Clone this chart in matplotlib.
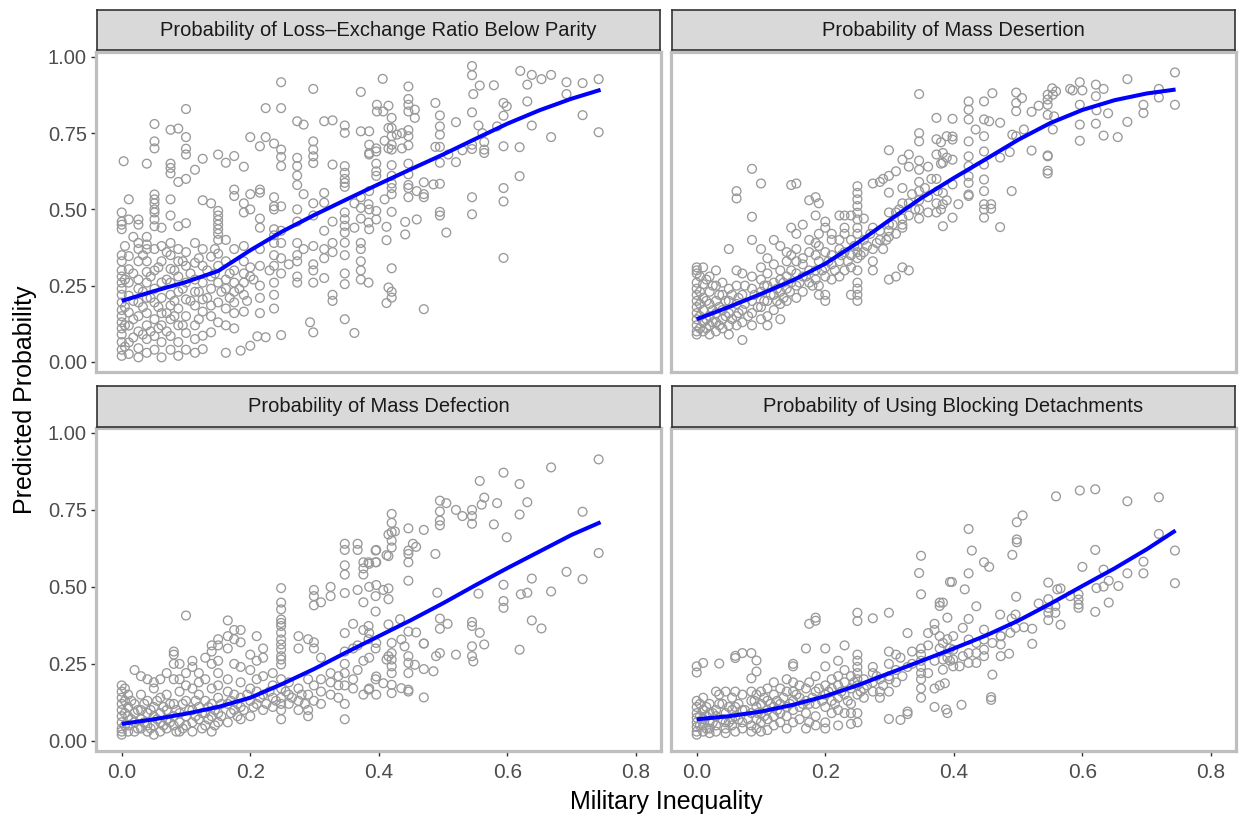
import matplotlib
matplotlib.use("Agg")
import matplotlib.pyplot as plt

plt.rcParams["font.family"] = ["Liberation Sans", "DejaVu Sans"]

# facet titles
titles = [
    "Probability of Loss\u2013Exchange Ratio Below Parity",
    "Probability of Mass Desertion",
    "Probability of Mass Defection",
    "Probability of Using Blocking Detachments",
]

# smoothed fit
fit_x = [0.0, 0.05, 0.1, 0.15, 0.2, 0.25, 0.3, 0.35, 0.4, 0.45, 0.5, 0.55, 0.6, 0.65, 0.7, 0.745]
loss_fit = [0.20, 0.232, 0.262, 0.298, 0.366, 0.428, 0.482, 0.533, 0.583, 0.632, 0.68, 0.731, 0.781, 0.825, 0.863, 0.892]
desert_fit = [0.14, 0.18, 0.223, 0.268, 0.322, 0.39, 0.465, 0.538, 0.603, 0.665, 0.728, 0.783, 0.826, 0.858, 0.880, 0.893]
defect_fit = [0.055, 0.07, 0.088, 0.11, 0.14, 0.185, 0.234, 0.288, 0.34, 0.392, 0.447, 0.505, 0.561, 0.615, 0.669, 0.71]
block_fit = [0.07, 0.08, 0.095, 0.117, 0.145, 0.18, 0.22, 0.26, 0.30, 0.342, 0.39, 0.445, 0.503, 0.56, 0.622, 0.683]

# predicted probabilities (x = military inequality, y = probability)
loss_pts = [
    (0.0, 0.49), (0.0, 0.46), (0.0, 0.45), (0.0, 0.435), (0.0, 0.35), (0.0, 0.33), (0.0, 0.30), (0.0, 0.28),
    (0.0, 0.26), (0.0, 0.24), (0.0, 0.22), (0.0, 0.195), (0.0, 0.17), (0.0, 0.15), (0.0, 0.13), (0.0, 0.11),
    (0.0, 0.09), (0.0, 0.065), (0.0, 0.04), (0.0, 0.02), (0.003, 0.658),
    (0.011, 0.533), (0.011, 0.467), (0.011, 0.347), (0.011, 0.304), (0.011, 0.26), (0.011, 0.217), (0.011, 0.162),
    (0.011, 0.119), (0.011, 0.064), (0.011, 0.026),
    (0.026, 0.467), (0.026, 0.45), (0.026, 0.39), (0.026, 0.37), (0.026, 0.33), (0.026, 0.27), (0.026, 0.24),
    (0.026, 0.195), (0.026, 0.15), (0.026, 0.10), (0.026, 0.045), (0.026, 0.015),
    (0.039, 0.65), (0.039, 0.41), (0.039, 0.385), (0.039, 0.37), (0.039, 0.33), (0.039, 0.295), (0.039, 0.26),
    (0.039, 0.21), (0.039, 0.16), (0.039, 0.12), (0.039, 0.075), (0.039, 0.03),
    (0.051, 0.78), (0.051, 0.723), (0.051, 0.70), (0.051, 0.549), (0.051, 0.533), (0.051, 0.52), (0.051, 0.50),
    (0.051, 0.49), (0.051, 0.467), (0.051, 0.445), (0.051, 0.37), (0.051, 0.30), (0.051, 0.24), (0.051, 0.195),
    (0.051, 0.14), (0.051, 0.085), (0.051, 0.04),
    (0.062, 0.44), (0.062, 0.38), (0.062, 0.33), (0.062, 0.26), (0.062, 0.21), (0.062, 0.16), (0.062, 0.12),
    (0.062, 0.065), (0.062, 0.015),
    (0.076, 0.761), (0.076, 0.65), (0.076, 0.636), (0.076, 0.618), (0.076, 0.533), (0.076, 0.48), (0.076, 0.39),
    (0.076, 0.35), (0.076, 0.305), (0.076, 0.26), (0.076, 0.22), (0.076, 0.185), (0.076, 0.14), (0.076, 0.085),
    (0.076, 0.04),
    (0.088, 0.765), (0.088, 0.59), (0.088, 0.445), (0.088, 0.37), (0.088, 0.33), (0.088, 0.28), (0.088, 0.23),
    (0.088, 0.175), (0.088, 0.12), (0.088, 0.065), (0.088, 0.02),
    (0.10, 0.829), (0.10, 0.737), (0.10, 0.699), (0.10, 0.68), (0.10, 0.60), (0.10, 0.455), (0.10, 0.36),
    (0.10, 0.315), (0.10, 0.26), (0.10, 0.205), (0.10, 0.15), (0.10, 0.095), (0.10, 0.04),
    (0.114, 0.63), (0.114, 0.39), (0.114, 0.325), (0.114, 0.27), (0.114, 0.23), (0.114, 0.185), (0.114, 0.12),
    (0.114, 0.075), (0.114, 0.03),
    (0.126, 0.666), (0.126, 0.53), (0.126, 0.37), (0.126, 0.315), (0.126, 0.26), (0.126, 0.205), (0.126, 0.165),
    (0.126, 0.086), (0.126, 0.042),
    (0.139, 0.52), (0.139, 0.345), (0.139, 0.28), (0.139, 0.24), (0.139, 0.185), (0.139, 0.15), (0.139, 0.097),
    (0.15, 0.68), (0.15, 0.495), (0.15, 0.48), (0.15, 0.465), (0.15, 0.45), (0.15, 0.435), (0.15, 0.42),
    (0.15, 0.40), (0.15, 0.355), (0.15, 0.315), (0.15, 0.26), (0.15, 0.195), (0.15, 0.13),
    (0.162, 0.653), (0.162, 0.40), (0.162, 0.33), (0.162, 0.27), (0.162, 0.24), (0.162, 0.175), (0.162, 0.12),
    (0.162, 0.03),
    (0.175, 0.675), (0.175, 0.565), (0.175, 0.544), (0.175, 0.37), (0.175, 0.30), (0.175, 0.26), (0.175, 0.23),
    (0.175, 0.195), (0.175, 0.16), (0.175, 0.11),
    (0.19, 0.64), (0.19, 0.52), (0.19, 0.49), (0.19, 0.38), (0.19, 0.33), (0.19, 0.29), (0.19, 0.26),
    (0.19, 0.22), (0.19, 0.165), (0.185, 0.037),
    (0.20, 0.737), (0.20, 0.55), (0.20, 0.50), (0.20, 0.31), (0.20, 0.28), (0.20, 0.053),
    (0.215, 0.707), (0.215, 0.565), (0.215, 0.555), (0.215, 0.47), (0.215, 0.44), (0.215, 0.37), (0.215, 0.315),
    (0.215, 0.25), (0.215, 0.21), (0.215, 0.16), (0.211, 0.084),
    (0.224, 0.832), (0.224, 0.737), (0.224, 0.081),
    (0.237, 0.716), (0.237, 0.54), (0.237, 0.51), (0.237, 0.50), (0.237, 0.435), (0.237, 0.415), (0.237, 0.39),
    (0.237, 0.35), (0.237, 0.315), (0.237, 0.26), (0.237, 0.22), (0.237, 0.175),
    (0.248, 0.917), (0.248, 0.832), (0.248, 0.696), (0.248, 0.672), (0.248, 0.642), (0.248, 0.51), (0.248, 0.43),
    (0.248, 0.39), (0.248, 0.34), (0.248, 0.29), (0.248, 0.088),
    (0.273, 0.789), (0.273, 0.669), (0.273, 0.642), (0.273, 0.611), (0.273, 0.58), (0.273, 0.50), (0.273, 0.46),
    (0.273, 0.39), (0.273, 0.35), (0.273, 0.33), (0.273, 0.28), (0.273, 0.26),
    (0.283, 0.778), (0.283, 0.55), (0.283, 0.37),
    (0.298, 0.895), (0.298, 0.723), (0.298, 0.696), (0.298, 0.674), (0.298, 0.652), (0.298, 0.52), (0.298, 0.48),
    (0.298, 0.38), (0.298, 0.32), (0.298, 0.30), (0.298, 0.26), (0.293, 0.13), (0.298, 0.097),
    (0.315, 0.789), (0.315, 0.554), (0.315, 0.522), (0.315, 0.43), (0.315, 0.37), (0.315, 0.34), (0.315, 0.275),
    (0.328, 0.792), (0.328, 0.647), (0.328, 0.46), (0.328, 0.39), (0.328, 0.36), (0.328, 0.22), (0.328, 0.20),
    (0.347, 0.775), (0.347, 0.751), (0.347, 0.642), (0.347, 0.62), (0.347, 0.587), (0.347, 0.574), (0.347, 0.60),
    (0.347, 0.49), (0.347, 0.468), (0.347, 0.446), (0.347, 0.424), (0.347, 0.391), (0.347, 0.35), (0.347, 0.29),
    (0.347, 0.255), (0.347, 0.14),
    (0.362, 0.095), (0.362, 0.52), (0.362, 0.44),
    (0.372, 0.885), (0.372, 0.756), (0.372, 0.54), (0.372, 0.505), (0.372, 0.47), (0.372, 0.39), (0.372, 0.37),
    (0.372, 0.33), (0.372, 0.30), (0.372, 0.27),
    (0.385, 0.712), (0.385, 0.68), (0.385, 0.756), (0.385, 0.685), (0.385, 0.56), (0.385, 0.50), (0.385, 0.435),
    (0.406, 0.928), (0.397, 0.843), (0.397, 0.821), (0.415, 0.84), (0.407, 0.821), (0.42, 0.80), (0.42, 0.767),
    (0.42, 0.74), (0.42, 0.712), (0.42, 0.696), (0.415, 0.767), (0.428, 0.745), (0.436, 0.75), (0.415, 0.70),
    (0.436, 0.70), (0.396, 0.70), (0.396, 0.69), (0.409, 0.725),
    (0.446, 0.903), (0.446, 0.862), (0.446, 0.843), (0.446, 0.821), (0.456, 0.827), (0.456, 0.80), (0.446, 0.76),
    (0.446, 0.74), (0.446, 0.71),
    (0.396, 0.65), (0.396, 0.625), (0.396, 0.61), (0.42, 0.645), (0.42, 0.61), (0.42, 0.585), (0.42, 0.57),
    (0.42, 0.55), (0.446, 0.65), (0.446, 0.615), (0.446, 0.58), (0.446, 0.57), (0.446, 0.54), (0.47, 0.589),
    (0.47, 0.55), (0.47, 0.54), (0.485, 0.582), (0.495, 0.584), (0.459, 0.56),
    (0.396, 0.495), (0.396, 0.467), (0.42, 0.492), (0.409, 0.533), (0.384, 0.517), (0.384, 0.457), (0.459, 0.467),
    (0.441, 0.459), (0.441, 0.418), (0.412, 0.443), (0.412, 0.399), (0.505, 0.424),
    (0.594, 0.341), (0.42, 0.307), (0.384, 0.26), (0.415, 0.244), (0.42, 0.23), (0.42, 0.211), (0.412, 0.193),
    (0.47, 0.173),
    (0.488, 0.849), (0.495, 0.808), (0.495, 0.772), (0.495, 0.745), (0.52, 0.786), (0.545, 0.818), (0.557, 0.906),
    (0.547, 0.878), (0.579, 0.907), (0.594, 0.849), (0.599, 0.838), (0.594, 0.807), (0.631, 0.909), (0.631, 0.854),
    (0.555, 0.775), (0.584, 0.772), (0.561, 0.75),
    (0.488, 0.705), (0.495, 0.705), (0.508, 0.68), (0.495, 0.653), (0.52, 0.655), (0.53, 0.694), (0.545, 0.698),
    (0.545, 0.712), (0.564, 0.721), (0.564, 0.696), (0.564, 0.685), (0.594, 0.707), (0.619, 0.704),
    (0.638, 0.775), (0.668, 0.737), (0.717, 0.809), (0.742, 0.753), (0.619, 0.609), (0.594, 0.57), (0.594, 0.526),
    (0.545, 0.54), (0.545, 0.484), (0.495, 0.492), (0.495, 0.48),
    (0.545, 0.97), (0.545, 0.94), (0.62, 0.954), (0.638, 0.941), (0.653, 0.927), (0.668, 0.941), (0.692, 0.917),
    (0.717, 0.914), (0.742, 0.927), (0.692, 0.878),
]
loss_dense = [
    (0.005, 0.38), (0.005, 0.27), (0.005, 0.18), (0.005, 0.12), (0.005, 0.05), (0.018, 0.41), (0.018, 0.29),
    (0.018, 0.20), (0.018, 0.14), (0.018, 0.08), (0.033, 0.35), (0.033, 0.23), (0.033, 0.18), (0.033, 0.09),
    (0.045, 0.28), (0.045, 0.21), (0.045, 0.10), (0.057, 0.31), (0.057, 0.18), (0.057, 0.11), (0.07, 0.36),
    (0.07, 0.27), (0.07, 0.16), (0.07, 0.10), (0.082, 0.30), (0.082, 0.20), (0.082, 0.15), (0.095, 0.33),
    (0.095, 0.24), (0.095, 0.12), (0.107, 0.29), (0.107, 0.20), (0.12, 0.34), (0.12, 0.23), (0.12, 0.14),
    (0.133, 0.30), (0.133, 0.21), (0.145, 0.37), (0.145, 0.29), (0.155, 0.23), (0.168, 0.29), (0.168, 0.21),
    (0.183, 0.24), (0.195, 0.20), (0.205, 0.27), (0.23, 0.30), (0.26, 0.32),
]

desert_pts = [
    (0.0, 0.31), (0.0, 0.30), (0.0, 0.29), (0.0, 0.26), (0.0, 0.24), (0.0, 0.22), (0.0, 0.20), (0.0, 0.18),
    (0.0, 0.16), (0.0, 0.14), (0.0, 0.12), (0.0, 0.10), (0.0, 0.09),
    (0.01, 0.31), (0.01, 0.255), (0.01, 0.21), (0.01, 0.17), (0.01, 0.13), (0.01, 0.10),
    (0.02, 0.28), (0.02, 0.23), (0.02, 0.19), (0.02, 0.15), (0.02, 0.12), (0.02, 0.09),
    (0.03, 0.30), (0.03, 0.25), (0.03, 0.20), (0.03, 0.16), (0.03, 0.13), (0.03, 0.10),
    (0.04, 0.26), (0.04, 0.22), (0.04, 0.17), (0.04, 0.14), (0.04, 0.11),
    (0.05, 0.37), (0.05, 0.24), (0.05, 0.20), (0.05, 0.16), (0.05, 0.12), (0.05, 0.09),
    (0.062, 0.56), (0.062, 0.536), (0.062, 0.30), (0.062, 0.25), (0.062, 0.19), (0.062, 0.15), (0.062, 0.12),
    (0.071, 0.29), (0.071, 0.22), (0.071, 0.17), (0.071, 0.13), (0.071, 0.072),
    (0.086, 0.633), (0.086, 0.476), (0.086, 0.40), (0.086, 0.28), (0.086, 0.24), (0.086, 0.20), (0.086, 0.16),
    (0.086, 0.12),
    (0.10, 0.585), (0.10, 0.37), (0.10, 0.31), (0.10, 0.27), (0.10, 0.23), (0.10, 0.18), (0.10, 0.14),
    (0.11, 0.34), (0.11, 0.29), (0.11, 0.25), (0.11, 0.20), (0.11, 0.15), (0.11, 0.12),
    (0.12, 0.40), (0.12, 0.32), (0.12, 0.26), (0.12, 0.22), (0.12, 0.17),
    (0.13, 0.38), (0.13, 0.30), (0.13, 0.27), (0.13, 0.23), (0.13, 0.19), (0.13, 0.14),
    (0.14, 0.36), (0.14, 0.33), (0.14, 0.28), (0.14, 0.24), (0.14, 0.20),
    (0.147, 0.58), (0.147, 0.44), (0.147, 0.35), (0.147, 0.30), (0.147, 0.26),
    (0.155, 0.585), (0.155, 0.42), (0.155, 0.37), (0.155, 0.33), (0.155, 0.29), (0.155, 0.25), (0.155, 0.21),
    (0.165, 0.45), (0.165, 0.34), (0.165, 0.32), (0.165, 0.28), (0.165, 0.23),
    (0.175, 0.53), (0.175, 0.40), (0.175, 0.36), (0.175, 0.30), (0.175, 0.26),
    (0.185, 0.54), (0.185, 0.48), (0.185, 0.39), (0.185, 0.35), (0.185, 0.30), (0.185, 0.27),
    (0.19, 0.52), (0.19, 0.42), (0.19, 0.38), (0.19, 0.33), (0.19, 0.25), (0.19, 0.22),
    (0.20, 0.46), (0.20, 0.44), (0.20, 0.36), (0.20, 0.31), (0.20, 0.28), (0.20, 0.22), (0.20, 0.20),
    (0.21, 0.42), (0.21, 0.40), (0.21, 0.35), (0.21, 0.32), (0.21, 0.27),
    (0.222, 0.48), (0.222, 0.40), (0.222, 0.37), (0.222, 0.33), (0.222, 0.28),
    (0.23, 0.48), (0.23, 0.44), (0.23, 0.42), (0.23, 0.36), (0.23, 0.30),
    (0.24, 0.48), (0.24, 0.40), (0.24, 0.35), (0.24, 0.31), (0.24, 0.22),
    (0.25, 0.576), (0.25, 0.554), (0.25, 0.533), (0.25, 0.511), (0.25, 0.489), (0.25, 0.467), (0.25, 0.44),
    (0.25, 0.42), (0.25, 0.38), (0.25, 0.36), (0.25, 0.34), (0.25, 0.30), (0.25, 0.26), (0.25, 0.24),
    (0.25, 0.22), (0.25, 0.20),
    (0.26, 0.47), (0.26, 0.40), (0.26, 0.36),
    (0.274, 0.585), (0.274, 0.44), (0.274, 0.37), (0.274, 0.33), (0.274, 0.30),
    (0.285, 0.59), (0.285, 0.43), (0.285, 0.40),
    (0.29, 0.60), (0.29, 0.37),
    (0.299, 0.694), (0.299, 0.61), (0.299, 0.555), (0.299, 0.49), (0.299, 0.45), (0.299, 0.43), (0.299, 0.41),
    (0.299, 0.27),
    (0.31, 0.625), (0.31, 0.49), (0.31, 0.42), (0.31, 0.28),
    (0.32, 0.663), (0.32, 0.57), (0.32, 0.52), (0.32, 0.47), (0.32, 0.45), (0.32, 0.44), (0.32, 0.31),
    (0.33, 0.68), (0.33, 0.64), (0.33, 0.52), (0.33, 0.48), (0.33, 0.30),
    (0.346, 0.878), (0.346, 0.75), (0.346, 0.723), (0.346, 0.66), (0.346, 0.63), (0.346, 0.59), (0.346, 0.56),
    (0.346, 0.53), (0.346, 0.50), (0.346, 0.47),
    (0.36, 0.64), (0.36, 0.54), (0.36, 0.49),
    (0.373, 0.80), (0.373, 0.73), (0.373, 0.68), (0.373, 0.60), (0.373, 0.52), (0.373, 0.49),
    (0.38, 0.72), (0.38, 0.65), (0.38, 0.50),
    (0.389, 0.74), (0.389, 0.67), (0.389, 0.53),
    (0.744, 0.949), (0.744, 0.843), (0.67, 0.927), (0.719, 0.895), (0.719, 0.867), (0.695, 0.843), (0.695, 0.816),
    (0.67, 0.787), (0.655, 0.737), (0.633, 0.742), (0.621, 0.909), (0.621, 0.871), (0.621, 0.781), (0.633, 0.895),
    (0.64, 0.815), (0.622, 0.825), (0.596, 0.917), (0.596, 0.843), (0.596, 0.778), (0.596, 0.725), (0.60, 0.89),
    (0.581, 0.895), (0.585, 0.89),
    (0.553, 0.897), (0.559, 0.887), (0.554, 0.876), (0.546, 0.876), (0.546, 0.86), (0.546, 0.843), (0.556, 0.805),
    (0.554, 0.762), (0.546, 0.81),
    (0.532, 0.84), (0.521, 0.82), (0.521, 0.693), (0.497, 0.883), (0.497, 0.849), (0.497, 0.822), (0.506, 0.865),
    (0.491, 0.745), (0.509, 0.762), (0.497, 0.74),
    (0.46, 0.881), (0.447, 0.854), (0.423, 0.854), (0.423, 0.827), (0.398, 0.797), (0.423, 0.795), (0.447, 0.795),
    (0.455, 0.789), (0.472, 0.784), (0.434, 0.762),
    (0.546, 0.677), (0.546, 0.674), (0.546, 0.627), (0.546, 0.618), (0.49, 0.56), (0.472, 0.442), (0.487, 0.688),
    (0.472, 0.67),
    (0.447, 0.74), (0.447, 0.69), (0.447, 0.647), (0.447, 0.598), (0.447, 0.56), (0.447, 0.517), (0.447, 0.50),
    (0.447, 0.473), (0.458, 0.517), (0.458, 0.502),
    (0.423, 0.723), (0.423, 0.674), (0.423, 0.642), (0.423, 0.609), (0.423, 0.587), (0.423, 0.549), (0.423, 0.544),
    (0.398, 0.739), (0.398, 0.729), (0.398, 0.663), (0.398, 0.582), (0.398, 0.473), (0.407, 0.517),
    (0.383, 0.685), (0.383, 0.653), (0.383, 0.554), (0.383, 0.517), (0.383, 0.445),
]
desert_dense = [
    (0.005, 0.28), (0.005, 0.23), (0.005, 0.19), (0.005, 0.15), (0.005, 0.11), (0.015, 0.27), (0.015, 0.20),
    (0.015, 0.14), (0.015, 0.11), (0.025, 0.25), (0.025, 0.17), (0.025, 0.13), (0.035, 0.22), (0.035, 0.18),
    (0.035, 0.12), (0.045, 0.20), (0.045, 0.15), (0.055, 0.22), (0.055, 0.14), (0.065, 0.21), (0.065, 0.16),
    (0.075, 0.25), (0.075, 0.19), (0.08, 0.15), (0.09, 0.22), (0.095, 0.18), (0.105, 0.20), (0.105, 0.25),
    (0.115, 0.22), (0.125, 0.24), (0.125, 0.20), (0.135, 0.26), (0.135, 0.21), (0.145, 0.23), (0.16, 0.26),
    (0.17, 0.28), (0.18, 0.25), (0.195, 0.30), (0.205, 0.33), (0.215, 0.30), (0.225, 0.35), (0.235, 0.33),
    (0.245, 0.38), (0.255, 0.35), (0.265, 0.38), (0.27, 0.42), (0.28, 0.39), (0.295, 0.40), (0.305, 0.45),
    (0.315, 0.50), (0.335, 0.55), (0.34, 0.50), (0.355, 0.57), (0.365, 0.60), (0.375, 0.56),
]

defect_pts = [
    (0.0, 0.18), (0.0, 0.16), (0.0, 0.14), (0.0, 0.12), (0.0, 0.10), (0.0, 0.08), (0.0, 0.06), (0.0, 0.04),
    (0.0, 0.03), (0.0, 0.02),
    (0.01, 0.15), (0.01, 0.11), (0.01, 0.08), (0.01, 0.05), (0.01, 0.03),
    (0.02, 0.23), (0.02, 0.12), (0.02, 0.09), (0.02, 0.06), (0.02, 0.03),
    (0.03, 0.21), (0.03, 0.15), (0.03, 0.10), (0.03, 0.07), (0.03, 0.04),
    (0.04, 0.20), (0.04, 0.13), (0.04, 0.09), (0.04, 0.05), (0.04, 0.03),
    (0.05, 0.19), (0.05, 0.17), (0.05, 0.11), (0.05, 0.08), (0.05, 0.05), (0.05, 0.02),
    (0.06, 0.20), (0.06, 0.14), (0.06, 0.09), (0.06, 0.06), (0.06, 0.03),
    (0.07, 0.22), (0.07, 0.15), (0.07, 0.10), (0.07, 0.07), (0.07, 0.04),
    (0.081, 0.29), (0.081, 0.28), (0.081, 0.25), (0.081, 0.20), (0.081, 0.12), (0.081, 0.08), (0.081, 0.05),
    (0.09, 0.25), (0.09, 0.20), (0.09, 0.16), (0.09, 0.09), (0.09, 0.06), (0.09, 0.03),
    (0.10, 0.407), (0.10, 0.22), (0.10, 0.18), (0.10, 0.13), (0.10, 0.08), (0.10, 0.05),
    (0.11, 0.26), (0.11, 0.24), (0.11, 0.17), (0.11, 0.10), (0.11, 0.06), (0.11, 0.03),
    (0.12, 0.22), (0.12, 0.19), (0.12, 0.15), (0.12, 0.11), (0.12, 0.07),
    (0.13, 0.27), (0.13, 0.20), (0.13, 0.13), (0.13, 0.09), (0.13, 0.05),
    (0.14, 0.31), (0.14, 0.29), (0.14, 0.25), (0.14, 0.17), (0.14, 0.12), (0.14, 0.08), (0.14, 0.03),
    (0.15, 0.33), (0.15, 0.31), (0.15, 0.26), (0.15, 0.22), (0.15, 0.18), (0.15, 0.14), (0.15, 0.09),
    (0.15, 0.06),
    (0.165, 0.391), (0.165, 0.34), (0.165, 0.30), (0.165, 0.20), (0.165, 0.16), (0.165, 0.12), (0.165, 0.06),
    (0.175, 0.36), (0.175, 0.33), (0.175, 0.25), (0.175, 0.15), (0.175, 0.10),
    (0.185, 0.36), (0.185, 0.32), (0.185, 0.24), (0.185, 0.19), (0.185, 0.14), (0.185, 0.11), (0.185, 0.07),
    (0.20, 0.28), (0.20, 0.23), (0.20, 0.17), (0.20, 0.13), (0.20, 0.08),
    (0.21, 0.34), (0.21, 0.26), (0.21, 0.20), (0.21, 0.16), (0.21, 0.12),
    (0.22, 0.30), (0.22, 0.27), (0.22, 0.21), (0.22, 0.15), (0.22, 0.10),
    (0.235, 0.22), (0.235, 0.18), (0.235, 0.14), (0.235, 0.11),
    (0.248, 0.496), (0.248, 0.449), (0.248, 0.427), (0.248, 0.394), (0.248, 0.383), (0.248, 0.373),
    (0.248, 0.351), (0.248, 0.329), (0.248, 0.313), (0.248, 0.297), (0.248, 0.275), (0.248, 0.264),
    (0.248, 0.248), (0.248, 0.20), (0.248, 0.17), (0.248, 0.14), (0.248, 0.12), (0.248, 0.10), (0.248, 0.07),
    (0.26, 0.19), (0.26, 0.15), (0.26, 0.12),
    (0.275, 0.34), (0.275, 0.30), (0.275, 0.17), (0.275, 0.13), (0.275, 0.10),
    (0.29, 0.33), (0.29, 0.20), (0.29, 0.15), (0.29, 0.10), (0.29, 0.08),
    (0.299, 0.49), (0.299, 0.47), (0.299, 0.44), (0.299, 0.32), (0.299, 0.30), (0.299, 0.18), (0.299, 0.13),
    (0.31, 0.45), (0.31, 0.27), (0.31, 0.20), (0.31, 0.16), (0.31, 0.12),
    (0.325, 0.50), (0.325, 0.47), (0.325, 0.22), (0.325, 0.19), (0.325, 0.15),
    (0.337, 0.21), (0.337, 0.18), (0.337, 0.14),
    (0.347, 0.64), (0.347, 0.62), (0.347, 0.57), (0.347, 0.54), (0.347, 0.48), (0.347, 0.35), (0.347, 0.29),
    (0.347, 0.25), (0.347, 0.22), (0.347, 0.18), (0.347, 0.12), (0.347, 0.07),
    (0.36, 0.38), (0.36, 0.30), (0.36, 0.20), (0.36, 0.17),
    (0.367, 0.64), (0.367, 0.62), (0.367, 0.49), (0.367, 0.31), (0.367, 0.23),
    (0.376, 0.58), (0.376, 0.56), (0.376, 0.54), (0.376, 0.45), (0.376, 0.36), (0.376, 0.26), (0.376, 0.15),
    (0.385, 0.575), (0.385, 0.50), (0.385, 0.35), (0.385, 0.27), (0.385, 0.17),
    (0.395, 0.618), (0.395, 0.58), (0.395, 0.47), (0.395, 0.42), (0.395, 0.30), (0.395, 0.20),
    (0.742, 0.914), (0.668, 0.888), (0.594, 0.871), (0.619, 0.834), (0.557, 0.844),
    (0.564, 0.79), (0.56, 0.767), (0.584, 0.772), (0.631, 0.775),
    (0.495, 0.78), (0.505, 0.772), (0.495, 0.745), (0.52, 0.75), (0.53, 0.73), (0.545, 0.75), (0.545, 0.73),
    (0.545, 0.705), (0.495, 0.715), (0.495, 0.70),
    (0.619, 0.735), (0.579, 0.703), (0.599, 0.661), (0.717, 0.744), (0.742, 0.61),
    (0.692, 0.549), (0.717, 0.525), (0.638, 0.527), (0.668, 0.485), (0.594, 0.507), (0.621, 0.476),
    (0.631, 0.481), (0.594, 0.454), (0.594, 0.432), (0.555, 0.478), (0.491, 0.481),
    (0.638, 0.391), (0.653, 0.365), (0.619, 0.296), (0.545, 0.386), (0.545, 0.373), (0.557, 0.351),
    (0.564, 0.313), (0.545, 0.307), (0.545, 0.275), (0.547, 0.258), (0.52, 0.28),
    (0.495, 0.397), (0.495, 0.364), (0.507, 0.38), (0.47, 0.316), (0.489, 0.275), (0.495, 0.285),
    (0.42, 0.737), (0.42, 0.708), (0.42, 0.678), (0.42, 0.65), (0.42, 0.628), (0.425, 0.68), (0.415, 0.67),
    (0.446, 0.69), (0.446, 0.618), (0.446, 0.607), (0.446, 0.58), (0.453, 0.64), (0.458, 0.63), (0.47, 0.685),
    (0.396, 0.62), (0.396, 0.58), (0.412, 0.603), (0.415, 0.60), (0.384, 0.58), (0.396, 0.506), (0.407, 0.49),
    (0.415, 0.495), (0.415, 0.46), (0.446, 0.52), (0.488, 0.607),
    (0.433, 0.395), (0.415, 0.378), (0.446, 0.355), (0.458, 0.352), (0.384, 0.373), (0.396, 0.318),
    (0.384, 0.33),
    (0.42, 0.318), (0.42, 0.285), (0.42, 0.264), (0.42, 0.242), (0.42, 0.22), (0.415, 0.275), (0.412, 0.264),
    (0.435, 0.329), (0.44, 0.307), (0.446, 0.275), (0.446, 0.253), (0.446, 0.22), (0.456, 0.247), (0.47, 0.233),
    (0.485, 0.226), (0.47, 0.316),
    (0.396, 0.209), (0.407, 0.187), (0.42, 0.182), (0.42, 0.155), (0.435, 0.171), (0.446, 0.166),
    (0.446, 0.16), (0.47, 0.141), (0.384, 0.166), (0.396, 0.15),
]
defect_dense = [
    (0.005, 0.17), (0.005, 0.13), (0.005, 0.09), (0.005, 0.05), (0.015, 0.13), (0.015, 0.07), (0.025, 0.10),
    (0.025, 0.04), (0.035, 0.12), (0.035, 0.06), (0.045, 0.10), (0.045, 0.04), (0.055, 0.13), (0.055, 0.07),
    (0.065, 0.11), (0.065, 0.05), (0.075, 0.12), (0.075, 0.06), (0.085, 0.10), (0.085, 0.03), (0.095, 0.12),
    (0.095, 0.04), (0.105, 0.10), (0.115, 0.13), (0.115, 0.08), (0.125, 0.09), (0.125, 0.04), (0.135, 0.11),
    (0.135, 0.07), (0.145, 0.10), (0.145, 0.05), (0.155, 0.12), (0.155, 0.08), (0.17, 0.13), (0.17, 0.09),
    (0.18, 0.12), (0.18, 0.08), (0.19, 0.10), (0.195, 0.15), (0.205, 0.11), (0.215, 0.14), (0.225, 0.12),
    (0.23, 0.16), (0.24, 0.13), (0.255, 0.16), (0.265, 0.14), (0.28, 0.15), (0.285, 0.12),
]

block_pts = [
    (0.0, 0.242), (0.0, 0.222), (0.0, 0.13), (0.0, 0.11), (0.0, 0.09), (0.0, 0.075), (0.0, 0.06), (0.0, 0.045),
    (0.0, 0.03), (0.0, 0.02),
    (0.01, 0.253), (0.01, 0.14), (0.01, 0.10), (0.01, 0.07), (0.01, 0.05), (0.01, 0.03),
    (0.02, 0.12), (0.02, 0.09), (0.02, 0.06), (0.02, 0.04), (0.02, 0.025),
    (0.03, 0.16), (0.03, 0.10), (0.03, 0.08), (0.03, 0.05), (0.03, 0.03),
    (0.035, 0.251), (0.035, 0.15), (0.035, 0.12),
    (0.045, 0.16), (0.045, 0.09), (0.045, 0.06), (0.045, 0.04), (0.045, 0.025),
    (0.055, 0.14), (0.055, 0.10), (0.055, 0.07), (0.055, 0.05),
    (0.06, 0.276), (0.06, 0.269), (0.06, 0.16), (0.06, 0.11), (0.06, 0.08), (0.06, 0.03),
    (0.071, 0.285), (0.071, 0.15), (0.071, 0.10), (0.071, 0.06), (0.071, 0.04),
    (0.085, 0.285), (0.085, 0.203), (0.085, 0.16), (0.085, 0.13), (0.085, 0.09), (0.085, 0.05), (0.085, 0.03),
    (0.093, 0.261), (0.093, 0.225), (0.093, 0.15), (0.093, 0.11), (0.093, 0.07), (0.093, 0.04),
    (0.10, 0.16), (0.10, 0.12), (0.10, 0.09), (0.10, 0.06), (0.10, 0.03),
    (0.11, 0.17), (0.11, 0.13), (0.11, 0.10), (0.11, 0.07), (0.11, 0.035),
    (0.12, 0.19), (0.12, 0.15), (0.12, 0.11), (0.12, 0.08), (0.12, 0.05),
    (0.13, 0.17), (0.13, 0.12), (0.13, 0.09), (0.13, 0.06),
    (0.14, 0.20), (0.14, 0.16), (0.14, 0.11), (0.14, 0.08), (0.14, 0.04),
    (0.15, 0.25), (0.15, 0.242), (0.15, 0.19), (0.15, 0.16), (0.15, 0.13), (0.15, 0.10), (0.15, 0.06),
    (0.16, 0.18), (0.16, 0.14), (0.16, 0.11), (0.16, 0.07),
    (0.17, 0.30), (0.17, 0.17), (0.17, 0.13), (0.17, 0.09), (0.17, 0.04),
    (0.175, 0.38), (0.175, 0.19), (0.175, 0.12), (0.175, 0.06),
    (0.185, 0.40), (0.185, 0.39), (0.185, 0.21), (0.185, 0.16), (0.185, 0.12), (0.185, 0.08), (0.185, 0.05),
    (0.20, 0.30), (0.20, 0.242), (0.20, 0.18), (0.20, 0.15), (0.20, 0.11), (0.20, 0.06), (0.20, 0.04),
    (0.21, 0.20), (0.21, 0.17), (0.21, 0.13), (0.21, 0.09),
    (0.22, 0.26), (0.22, 0.21), (0.22, 0.18), (0.22, 0.14), (0.22, 0.10), (0.22, 0.05),
    (0.23, 0.31), (0.23, 0.23), (0.23, 0.19), (0.23, 0.15), (0.23, 0.09),
    (0.24, 0.21), (0.24, 0.17), (0.24, 0.12), (0.24, 0.09), (0.24, 0.055),
    (0.25, 0.416), (0.25, 0.389), (0.25, 0.28), (0.25, 0.26), (0.25, 0.24), (0.25, 0.22), (0.25, 0.20),
    (0.25, 0.18), (0.25, 0.15), (0.25, 0.09), (0.25, 0.06),
    (0.26, 0.20), (0.26, 0.17), (0.26, 0.14),
    (0.274, 0.398), (0.274, 0.24), (0.274, 0.22), (0.274, 0.19), (0.274, 0.16),
    (0.285, 0.20), (0.285, 0.16), (0.285, 0.14),
    (0.299, 0.416), (0.299, 0.29), (0.299, 0.25), (0.299, 0.21), (0.299, 0.16), (0.299, 0.071),
    (0.31, 0.28), (0.31, 0.23), (0.31, 0.19),
    (0.317, 0.068), (0.317, 0.27),
    (0.328, 0.087), (0.328, 0.095), (0.328, 0.35), (0.328, 0.24),
    (0.335, 0.29), (0.335, 0.25),
    (0.349, 0.601), (0.346, 0.545), (0.349, 0.476), (0.349, 0.30), (0.349, 0.28), (0.349, 0.26), (0.349, 0.24),
    (0.349, 0.22), (0.349, 0.20), (0.349, 0.17), (0.349, 0.14),
    (0.36, 0.22), (0.36, 0.31), (0.36, 0.35),
    (0.37, 0.38), (0.37, 0.36), (0.37, 0.26), (0.37, 0.17), (0.37, 0.11),
    (0.378, 0.449), (0.378, 0.438), (0.378, 0.34), (0.378, 0.30), (0.378, 0.18),
    (0.39, 0.40), (0.39, 0.33), (0.39, 0.27), (0.39, 0.09),
    (0.394, 0.516), (0.394, 0.30), (0.394, 0.26),
    (0.559, 0.794), (0.596, 0.813), (0.62, 0.817), (0.67, 0.778), (0.719, 0.791),
    (0.507, 0.732), (0.498, 0.71), (0.498, 0.654), (0.498, 0.645), (0.491, 0.604),
    (0.423, 0.688), (0.428, 0.618), (0.423, 0.544), (0.447, 0.58), (0.455, 0.565), (0.397, 0.516),
    (0.417, 0.492), (0.383, 0.449),
    (0.62, 0.62), (0.60, 0.565), (0.633, 0.556), (0.67, 0.544), (0.695, 0.582), (0.695, 0.544), (0.719, 0.672),
    (0.744, 0.618), (0.744, 0.512),
    (0.641, 0.52), (0.633, 0.501), (0.622, 0.496), (0.656, 0.503), (0.62, 0.419), (0.641, 0.449),
    (0.547, 0.514), (0.547, 0.46), (0.547, 0.432), (0.547, 0.416), (0.547, 0.392), (0.561, 0.492),
    (0.566, 0.495), (0.558, 0.438), (0.558, 0.416), (0.566, 0.377), (0.532, 0.446), (0.581, 0.47),
    (0.594, 0.476), (0.594, 0.459), (0.594, 0.443), (0.594, 0.432),
    (0.497, 0.468), (0.472, 0.41), (0.49, 0.397), (0.496, 0.41), (0.496, 0.367), (0.509, 0.369), (0.522, 0.364),
    (0.522, 0.315), (0.488, 0.351), (0.473, 0.34), (0.473, 0.313), (0.473, 0.275), (0.486, 0.283),
    (0.46, 0.215), (0.458, 0.142), (0.458, 0.133), (0.412, 0.117), (0.388, 0.102),
    (0.423, 0.396), (0.414, 0.367), (0.435, 0.437), (0.447, 0.361), (0.447, 0.329), (0.447, 0.296),
    (0.447, 0.275), (0.435, 0.318), (0.435, 0.285), (0.435, 0.253), (0.423, 0.329), (0.423, 0.285),
    (0.423, 0.253), (0.414, 0.275), (0.409, 0.242), (0.399, 0.34), (0.399, 0.296), (0.399, 0.264),
    (0.399, 0.242), (0.383, 0.318), (0.383, 0.264), (0.383, 0.231), (0.386, 0.187), (0.46, 0.318),
    (0.473, 0.34),
]
block_dense = [
    (0.005, 0.12), (0.005, 0.08), (0.005, 0.05), (0.015, 0.11), (0.015, 0.08), (0.015, 0.04), (0.025, 0.09),
    (0.025, 0.06), (0.04, 0.12), (0.04, 0.07), (0.05, 0.11), (0.05, 0.06), (0.065, 0.12), (0.065, 0.07),
    (0.075, 0.10), (0.08, 0.07), (0.09, 0.13), (0.095, 0.09), (0.105, 0.14), (0.105, 0.08), (0.115, 0.12),
    (0.125, 0.10), (0.125, 0.13), (0.135, 0.14), (0.145, 0.12), (0.155, 0.15), (0.165, 0.12), (0.18, 0.14),
    (0.19, 0.17), (0.195, 0.13), (0.205, 0.16), (0.215, 0.12), (0.225, 0.16), (0.235, 0.13), (0.245, 0.19),
    (0.255, 0.16), (0.265, 0.18), (0.28, 0.21), (0.29, 0.18), (0.30, 0.20), (0.32, 0.21),
]

all_pts = [loss_pts + loss_dense, desert_pts + desert_dense, defect_pts + defect_dense, block_pts + block_dense]
all_fits = [loss_fit, desert_fit, defect_fit, block_fit]

W, H = 1241, 817
fig = plt.figure(figsize=(W / 100, H / 100), dpi=100)

# panel boxes in pixels: (left, right) and (top, bottom)
cols = [(96, 661), (671, 1236)]
rows = [(52, 372), (428, 751)]
strip_rows = [(10, 50), (386, 427)]


def to_fig(l, t, r, b):
    return [l / W, 1 - b / H, (r - l) / W, (b - t) / H]


grey_border = "#BEBEBE"
for i in range(4):
    ri, ci = divmod(i, 2)
    l, r = cols[ci]
    t, b = rows[ri]
    ax = fig.add_axes(to_fig(l, t, r, b))
    xs = [p[0] for p in all_pts[i]]
    ys = [p[1] for p in all_pts[i]]
    ax.scatter(xs, ys, s=40, facecolors="none", edgecolors="#999999", linewidths=0.95, zorder=2)
    ax.plot(fit_x, all_fits[i], color="#0000FF", lw=2.9, zorder=3, solid_capstyle="butt",
            solid_joinstyle="round")
    ax.set_xlim(-0.04, 0.839)
    ax.set_ylim(-0.033, 1.016)
    for sp in ax.spines.values():
        sp.set_color(grey_border)
        sp.set_linewidth(2.3)
    ax.set_xticks([0.0, 0.2, 0.4, 0.6, 0.8])
    ax.set_yticks([0.0, 0.25, 0.5, 0.75, 1.0])
    ax.tick_params(colors="#333333", length=3.5, width=1.0)
    ax.tick_params(axis="x", labelsize=15, labelcolor="#4D4D4D", pad=5)
    ax.tick_params(axis="y", labelsize=14.5, labelcolor="#4D4D4D", pad=3)
    ax.set_xticklabels(["0.0", "0.2", "0.4", "0.6", "0.8"])
    ax.set_yticklabels(["0.00", "0.25", "0.50", "0.75", "1.00"])
    if ri == 0:
        ax.tick_params(axis="x", bottom=False, labelbottom=False)
    if ci == 1:
        ax.tick_params(axis="y", left=False, labelleft=False)

    st, sb = strip_rows[ri]
    sax = fig.add_axes(to_fig(l + 1, st, r - 1, sb))
    sax.set_facecolor("#D9D9D9")
    sax.set_xticks([])
    sax.set_yticks([])
    for sp in sax.spines.values():
        sp.set_color("#333333")
        sp.set_linewidth(1.2)
    sax.text(0.5, 0.5, titles[i], ha="center", va="center", fontsize=14.5, color="#1A1A1A",
             transform=sax.transAxes)

fig.text(666 / W, 1 - 802 / H, "Military Inequality", ha="center", va="center", fontsize=18)
fig.text(25 / W, 1 - 400 / H, "Predicted Probability", ha="center", va="center", fontsize=18, rotation=90)

fig.savefig("out.png", dpi=100, facecolor="white")
